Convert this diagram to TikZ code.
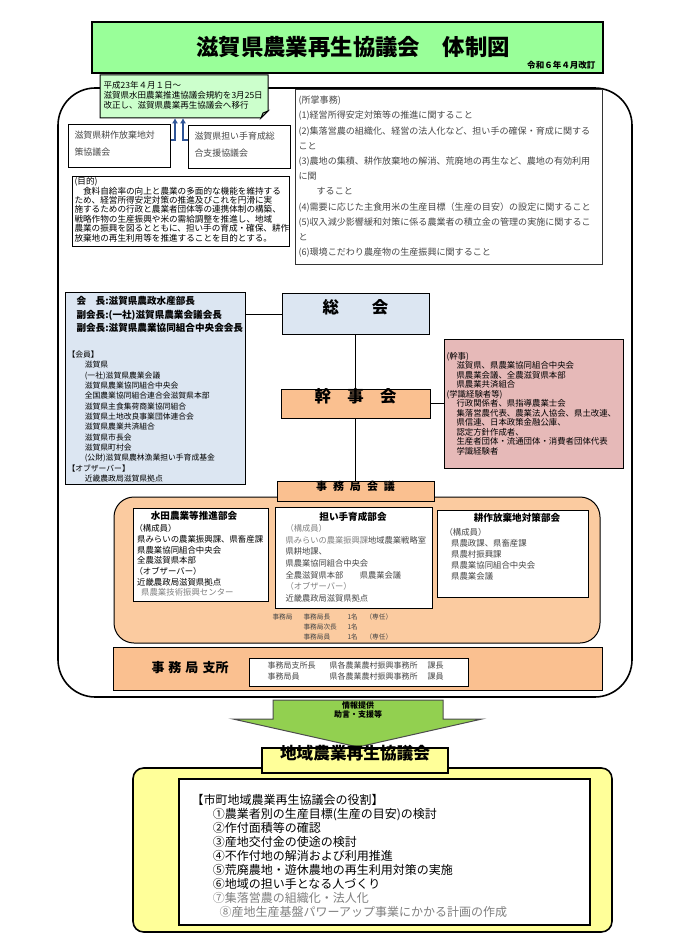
\documentclass[tikz,border=0pt]{standalone}
\usepackage{fontspec}
\setmainfont{Noto Sans CJK JP}
\usetikzlibrary{fit,arrows.meta}

\definecolor{titlegreen}{RGB}{153,255,153}
\definecolor{notegreen}{RGB}{204,255,204}
\definecolor{soukaiblue}{RGB}{220,230,242}
\definecolor{peach}{RGB}{250,192,144}
\definecolor{peachlight}{RGB}{251,203,160}
\definecolor{kanjipink}{RGB}{230,185,184}
\definecolor{arrowgreen}{RGB}{146,208,80}
\definecolor{chiikiyellow}{RGB}{255,255,153}
\definecolor{linkblue}{RGB}{47,85,151}
\definecolor{textgray}{RGB}{70,70,70}
\definecolor{softgray}{RGB}{128,128,128}

\tikzset{every picture/.style={line width=0.75pt}}
\tikzset{
  box/.style={draw, inner sep=0pt},
  fs/.style 2 args={font=\fontsize{#1}{#2}\selectfont},
  fsb/.style 2 args={font=\fontsize{#1}{#2}\selectfont\bfseries},
  bluelink/.style={draw=linkblue, line width=1.5pt, -{Latex[length=4pt,width=4.5pt]}},
}

\begin{document}
\begin{tikzpicture}[x=0.75pt,y=0.75pt,yscale=-1,xscale=1]
	\useasboundingbox (0,0) rectangle (688,948);
	
	%Shape: Rectangle (title bar)
	\node [box, fill=titlegreen, line width=1pt, fit={(92,22) (603,73)}] (title) {};
	% Text Node
	\draw (353,47) node [fsb={16.8}{20}] (titletext) {滋賀県農業再生協議会　体制図};
	% Text Node
	\draw (597,65) node [anchor=east][inner sep=0.75pt][fsb={6.4}{8}] (revised) {令和６年４月改訂};
	
	%Shape: Rounded Rect (outer frame)
	\draw [line width=1.2pt, rounded corners=28pt] (58,88) rectangle (632,697);
	
	%Shape: Note (folded corner)
	\draw [fill=notegreen] (100,75) -- (268,75) -- (268,111) -- (261,118) -- (100,118) -- cycle ;
	\draw [fill=notegreen!60!gray] (261,118) -- (263,113) -- (268,111) -- cycle ;
	\coordinate (noteL) at (175,118);
	\coordinate (noteR) at (183,118);
	% Text Node
	\draw (102,79.5) node [anchor=north west][inner sep=0.75pt][fs={6.4}{7.5}, align=left] (notetext) {平成23年４月１日～\\滋賀県水田農業推進協議会規約を3月25日\\改正し、滋賀県農業再生協議会へ移行};
	
	%Shape: Rectangle
	\node [box, fit={(68,125) (170,168)}] (kosaku) {};
	\draw (73,129.5) node [anchor=north west][inner sep=0.75pt][fs={6.7}{12.75}, align=left, text=textgray] (kosakutext) {滋賀県耕作放棄地対\\策協議会};
	%Shape: Rectangle
	\node [box, fit={(188,126) (290,169)}] (ninaite) {};
	\draw (193,130.5) node [anchor=north west][inner sep=0.75pt][fs={6.7}{12.75}, align=left, text=textgray] (ninaitetext) {滋賀県担い手育成総\\合支援協議会};
	
	%Straight Lines (merged councils)
	\coordinate (arrowrow) at (0,140);
	\draw [bluelink] (kosaku.east |- arrowrow) -| (noteL) ;
	\draw [bluelink] (ninaite.west |- arrowrow) -| (noteR) ;
	
	%Shape: Rectangle (purpose)
	\node [box, fit={(72,177) (289,247)}] (mokuteki) {};
	% Text Node
	\draw (73,176) node [anchor=north west][inner sep=0.75pt][fs={6.45}{7.05}, align=left] (mokutekitext) {(目的)\\　食料自給率の向上と農業の多面的な機能を維持する\\ため、経営所得安定対策の推進及びこれを円滑に実\\施するための行政と農業者団体等の連携体制の構築、\\戦略作物の生産振興や米の需給調整を推進し、地域\\農業の振興を図るとともに、担い手の育成・確保、耕作\\放棄地の再生利用等を推進することを目的とする。};
	
	%Shape: Rectangle (duties)
	\node [box, draw=black!80, fit={(295,90) (602,265)}] (shosho) {};
	% Text Node
	\draw (297,94.5) node [anchor=north west][inner sep=0.75pt][fs={6.8}{11.4}, align=left, text=textgray] (shoshotext) {(所掌事務)\\(1)経営所得安定対策等の推進に関すること\\(2)集落営農の組織化、経営の法人化など、担い手の確保・育成に関する\\こと\\(3)農地の集積、耕作放棄地の解消、荒廃地の再生など、農地の有効利用\\に関\\　　すること\\(4)需要に応じた主食用米の生産目標（生産の目安）の設定に関すること\\(5)収入減少影響緩和対策に係る農業者の積立金の管理の実施に関するこ\\と\\(6)環境こだわり農産物の生産振興に関すること};
	
	%Shape: Rectangle (members)
	\node [box, fill=soukaiblue, fit={(65,293) (245,484)}] (members) {};
	% Text Node
	\draw (75,295.2) node [anchor=north west][inner sep=0.75pt][fsb={7.2}{10.1}, align=left] (officers) {会　長:滋賀県農政水産部長\\副会長:(一社)滋賀県農業会議会長\\副会長:滋賀県農業協同組合中央会会長};
	% Text Node
	\draw (66,349.5) node [anchor=north west][inner sep=0.75pt][fs={5.85}{7.75}, align=left] (kaiin) {【会員】\\\hspace*{13pt}滋賀県\\\hspace*{13pt}(一社)滋賀県農業会議\\\hspace*{13pt}滋賀県農業協同組合中央会\\\hspace*{13pt}全国農業協同組合連合会滋賀県本部\\\hspace*{13pt}滋賀県主食集荷商業協同組合\\\hspace*{13pt}滋賀県土地改良事業団体連合会\\\hspace*{13pt}滋賀県農業共済組合\\\hspace*{13pt}滋賀県市長会\\\hspace*{13pt}滋賀県町村会\\\hspace*{13pt}(公財)滋賀県農林漁業担い手育成基金\\【オブザーバー】\\\hspace*{13pt}近畿農政局滋賀県拠点};
	
	%Shape: Rectangle (general assembly)
	\node [box, fill=soukaiblue, fit={(282,294) (429,334)}, fsb={12.3}{15}] (sokai) {総　　会};
	%Straight Lines
	\draw (members.east |- sokai.west) -- (sokai.west) ;
	
	%Shape: Rectangle (board)
	\node [box, fill=peach, fit={(281,389) (430,418)}, fsb={12.3}{15}] (kanjikai) {幹　事　会};
	%Straight Lines
	\draw (sokai.south) -- (kanjikai.north) ;
	
	%Shape: Rectangle (board members)
	\node [box, fill=kanjipink, fit={(444,339) (623,468)}] (kanji) {};
	\draw (kanjikai.east) -- (kanjikai.east -| kanji.west) ;
	% Text Node
	\draw (445,350.8) node [anchor=north west][inner sep=0.75pt][fs={6.3}{7.1}, align=left] (kanjitext) {(幹事)\\\hspace*{7.5pt}滋賀県、県農業協同組合中央会\\\hspace*{7.5pt}県農業会議、全農滋賀県本部\\\hspace*{7.5pt}県農業共済組合\\(学識経験者等)\\\hspace*{7.5pt}行政関係者、県指導農業士会\\\hspace*{7.5pt}集落営農代表、農業法人協会、県土改連、\\\hspace*{7.5pt}県信連、日本政策金融公庫、\\\hspace*{7.5pt}認定方針作成者、\\\hspace*{7.5pt}生産者団体・流通団体・消費者団体代表\\\hspace*{7.5pt}学識経験者};
	
	%Shape: Rounded Rect (secretariat area)
	\draw [fill=peachlight, rounded corners=15pt] (114,497) rectangle (600,643);
	%Shape: Rectangle (secretariat meeting)
	\node [box, fill=peach, fit={(277,481) (434,501)}, fsb={8.25}{10}] (jimukyoku) {事\hspace{4.5pt}務\hspace{4.5pt}局\hspace{4.5pt}会\hspace{4.5pt}議};
	%Straight Lines
	\draw (kanjikai.south) -- (jimukyoku.north) ;
	
	%Shape: Rectangle (paddy committee)
	\node [box, fill=white, fit={(133,508) (268,601)}] (suiden) {};
	\draw (194,516) node [fsb={7.2}{9}] (suidentitle) {水田農業等推進部会};
	\draw (133,523) node [anchor=north west][inner sep=0.75pt][fs={6.3}{8}, align=left] (suidentext) {（構成員）\\\hspace*{2pt}県みらいの農業振興課、県畜産課\\\hspace*{2pt}県農業協同組合中央会\\\hspace*{2pt}全農滋賀県本部\\（オブザーバー）\\\hspace*{2pt}近畿農政局滋賀県拠点\\\hspace*{5pt}\textcolor{softgray}{県農業技術振興センター}};
	
	%Shape: Rectangle (successor committee)
	\node [box, fill=white, fit={(275,507) (432,608)}] (ninaitebukai) {};
	\draw (353,517) node [fsb={7.2}{9}] (ninaitetitle) {担い手育成部会};
	\draw (284,523) node [anchor=north west][inner sep=0.75pt][fs={6.2}{8.75}, align=left, text=textgray] (ninaitebukaitext) {\textcolor{softgray}{（構成員）}\\\textcolor{softgray}{県みらいの農業振興課}地域農業戦略室\\県耕地課、\\県農業協同組合中央会\\全農滋賀県本部　　県農業会議\\\textcolor{softgray}{（オブザーバー）}\\近畿農政局滋賀県拠点};
	
	%Shape: Rectangle (abandoned land committee)
	\node [box, fill=white, fit={(437,510) (588,597)}] (kosakubukai) {};
	\draw (517,518) node [fsb={7.2}{9}] (kosakutitle) {耕作放棄地対策部会};
	\draw (443,527) node [anchor=north west][inner sep=0.75pt][fs={6.3}{8.25}, align=left, text=textgray] (kosakubukaitext) {（構成員）\\\hspace*{5pt}県農政課、県畜産課\\\hspace*{5pt}県農村振興課\\\hspace*{5pt}県農業協同組合中央会\\\hspace*{5pt}県農業会議};
	
	% Text Node
	\draw (271,612.6) node [anchor=north west][inner sep=0.75pt][fs={5}{7.5}, align=left, text=textgray] (staff) {\makebox[23.25pt][l]{事務局}\makebox[33pt][l]{事務局長}\makebox[13.5pt][l]{1名}（専任）\\\makebox[23.25pt][l]{}\makebox[33pt][l]{事務局次長}1名\\\makebox[23.25pt][l]{}\makebox[33pt][l]{事務局員}\makebox[13.5pt][l]{1名}（専任）};
	
	%Shape: Rectangle (branch offices)
	\node [box, fill=peach, fit={(113,647) (602,690)}] (shisho) {};
	\draw (190,668) node [fsb={9.75}{12}] (shishotitle) {事\hspace{3pt}務\hspace{3pt}局\hspace{3pt}支所};
	\node [box, fill=white, fit={(249,658) (468,686)}] (shishoinner) {};
	\draw (266,660) node [anchor=north west][inner sep=0.75pt][fs={6}{8.25}, align=left, text=textgray] (shishotext) {\makebox[46.5pt][l]{事務局支所長}\makebox[73.5pt][l]{県各農業農村振興事務所}課長\\\makebox[46.5pt][l]{事務局員}\makebox[73.5pt][l]{県各農業農村振興事務所}課員};
	
	%Shape: Arrow (support)
	\draw [fill=arrowgreen, draw=black!70] (273,700) -- (443,700) -- (443,719) -- (482,719) -- (358,747) -- (233,719) -- (273,719) -- cycle ;
	\draw (358,709.5) node [fsb={6}{6.75}, align=center] (support) {情報提供\\助言・支援等};
	
	%Shape: Rounded Rect (regional council)
	\draw [fill=chiikiyellow, line width=1.2pt, rounded corners=8pt] (133,768) rectangle (612,932);
	\node [box, fill=chiikiyellow, line width=1pt, fit={(262,748) (448,773)}, fsb={12.5}{15}] (chiiki) {地域農業再生協議会};
	\node [box, fill=white, line width=1.2pt, fit={(179,779) (590,925)}] (yakuwari) {};
	% Text Node
	\draw (190,793) node [anchor=north west][inner sep=0.75pt][fs={9}{10.5}, align=left] (yakuwaritext) {【市町地域農業再生協議会の役割】\\\hspace*{16pt}①農業者別の生産目標(生産の目安)の検討\\\hspace*{16pt}②作付面積等の確認\\\hspace*{16pt}③産地交付金の使途の検討\\\hspace*{16pt}④不作付地の解消および利用推進\\\hspace*{16pt}⑤荒廃農地・遊休農地の再生利用対策の実施\\\hspace*{16pt}⑥地域の担い手となる人づくり\\\hspace*{16pt}\textcolor{softgray}{⑦集落営農の組織化・法人化}\\\hspace*{21pt}\textcolor{softgray}{⑧産地生産基盤パワーアップ事業にかかる計画の作成}};
	
\end{tikzpicture}
\end{document}
